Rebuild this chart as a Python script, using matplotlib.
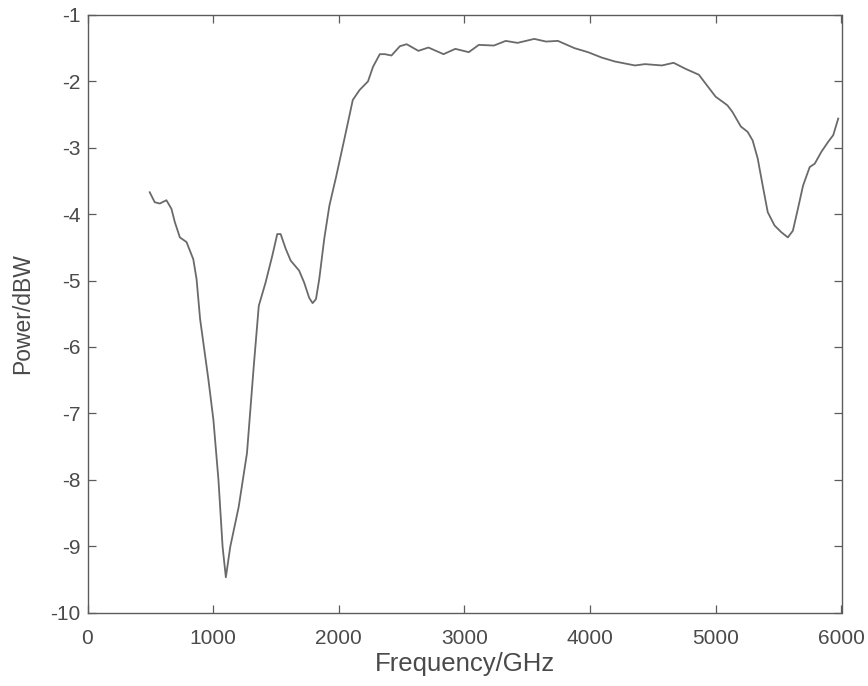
import matplotlib
matplotlib.use("Agg")
import matplotlib.pyplot as plt

# Measured power spectrum
freq_ghz = [495, 535, 575, 628, 668, 695, 735, 788, 842, 868, 896, 962, 1002,
            1042, 1075, 1101, 1136, 1203, 1269, 1323, 1363, 1417, 1470, 1510,
            1537, 1577, 1617, 1684, 1724, 1764, 1791, 1818, 1844, 1884, 1925,
            1978, 2045, 2111, 2165, 2232, 2272, 2326, 2366, 2419, 2486, 2540,
            2633, 2713, 2833, 2927, 3034, 3114, 3234, 3328, 3422, 3555, 3649,
            3743, 3876, 3983, 4090, 4196, 4356, 4436, 4571, 4664, 4758, 4865,
            4998, 5092, 5132, 5199, 5253, 5293, 5333, 5373, 5413, 5467, 5520,
            5573, 5613, 5653, 5694, 5747, 5787, 5840, 5894, 5934, 5974]
power_dbw = [-3.67, -3.82, -3.84, -3.79, -3.92, -4.12, -4.35, -4.42, -4.68,
             -4.98, -5.58, -6.49, -7.10, -8.00, -9.01, -9.47, -9.01, -8.41,
             -7.60, -6.29, -5.38, -5.03, -4.63, -4.30, -4.30, -4.52, -4.70,
             -4.85, -5.03, -5.26, -5.34, -5.28, -4.98, -4.37, -3.87, -3.44,
             -2.86, -2.28, -2.13, -2.00, -1.78, -1.59, -1.59, -1.61, -1.47,
             -1.44, -1.54, -1.49, -1.59, -1.51, -1.56, -1.45, -1.46, -1.39,
             -1.42, -1.36, -1.40, -1.39, -1.50, -1.56, -1.64, -1.70, -1.76,
             -1.74, -1.76, -1.72, -1.81, -1.90, -2.23, -2.36, -2.46, -2.68,
             -2.76, -2.89, -3.16, -3.57, -3.97, -4.17, -4.27, -4.35, -4.25,
             -3.92, -3.57, -3.29, -3.24, -3.06, -2.91, -2.81, -2.56]

x_ticks = [0, 1000, 2000, 3000, 4000, 5000, 6000]
y_ticks = [-10, -9, -8, -7, -6, -5, -4, -3, -2, -1]

plt.rcParams['font.family'] = ['Liberation Sans', 'DejaVu Sans']
text_color = '#4a4a4a'
axis_color = '#5c5c5c'

fig = plt.figure(figsize=(8.68, 6.86), dpi=100)
ax = fig.add_axes([87.5 / 868, 1 - 612.5 / 686, 754 / 868, 597.5 / 686])

ax.plot(freq_ghz, power_dbw, color='#6a6a6a', linewidth=1.3,
        solid_joinstyle='round')

ax.set_xlim(0, 6000)
ax.set_ylim(-10, -1)
ax.set_xticks(x_ticks)
ax.set_yticks(y_ticks)
ax.set_xticklabels([str(t) for t in x_ticks])
ax.set_yticklabels([str(t) for t in y_ticks])

ax.tick_params(direction='in', length=6, width=0.9, top=True, right=True,
               labelsize=15, colors=axis_color, labelcolor=text_color)
ax.tick_params(axis='x', pad=12)
ax.tick_params(axis='y', pad=5)
for side in ax.spines.values():
    side.set_color(axis_color)
    side.set_linewidth(1.0)

ax.set_xlabel('Frequency/GHz', fontsize=18.5, color=text_color, labelpad=3)
ax.set_ylabel('Power/dBW', fontsize=16.5, color=text_color, labelpad=12)

fig.savefig('out.png', dpi=100)
